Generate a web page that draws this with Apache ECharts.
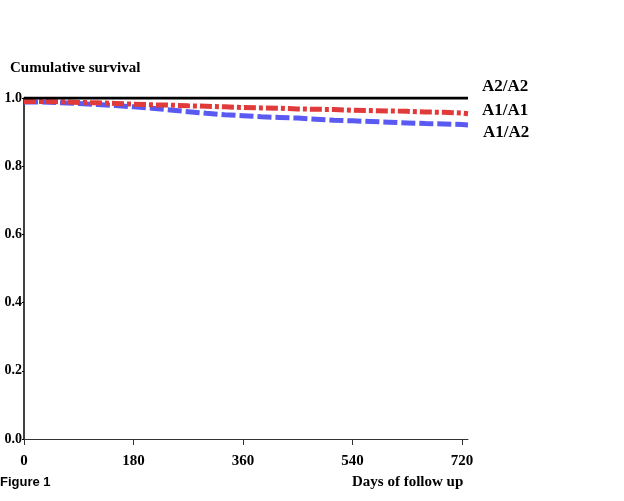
<!DOCTYPE html>
<html><head><meta charset="utf-8">
<script src="https://cdn.jsdelivr.net/npm/echarts@6/dist/echarts.min.js"></script>
<style>html,body{margin:0;padding:0;background:#fff}#c{width:624px;height:501px}</style>
</head><body><div id="c"></div>
<script>
const xTicks = [0, 180, 360, 540, 720];
const yTicks = [0, 0.2, 0.4, 0.6, 0.8, 1.0];
const seriesNames = ['A2/A2', 'A1/A1', 'A1/A2'];
const daysA2A2 = [0, 730];
const survA2A2 = [1.0, 1.0];
const daysA1A1 = [0, 30, 60, 90, 120, 150, 180, 210, 240, 270, 300, 330, 360, 390, 420, 450, 480, 510, 540, 570, 600, 630, 660, 690, 720, 730];
const survA1A1 = [0.990, 0.989, 0.987, 0.986, 0.984, 0.982, 0.980, 0.979, 0.977, 0.976, 0.974, 0.972, 0.971, 0.970, 0.968, 0.967, 0.966, 0.964, 0.963, 0.962, 0.961, 0.959, 0.958, 0.956, 0.954, 0.954];
const daysA1A2 = [0, 30, 60, 90, 120, 150, 180, 210, 240, 270, 300, 330, 360, 390, 420, 450, 480, 510, 540, 570, 600, 630, 660, 690, 720, 730];
const survA1A2 = [0.988, 0.986, 0.984, 0.981, 0.978, 0.974, 0.970, 0.965, 0.960, 0.955, 0.951, 0.948, 0.945, 0.943, 0.941, 0.938, 0.935, 0.933, 0.931, 0.929, 0.927, 0.925, 0.924, 0.922, 0.921, 0.921];

const zip = (a, b) => a.map((v, i) => [v, b[i]]);
const serif = '"Liberation Serif", "DejaVu Serif", serif';
const chart = echarts.init(document.getElementById('c'), null, {renderer: 'canvas'});
chart.setOption({
  backgroundColor: '#fff',
  animation: false,
  grid: {left: 24, right: 156, top: 98, bottom: 62, containLabel: false},
  xAxis: {
    type: 'value', min: 0, max: 730,
    axisLine: {show: true, lineStyle: {color: '#333', width: 1}},
    axisTick: {show: true, customValues: xTicks, length: 6, lineStyle: {color: '#333'}},
    axisLabel: {customValues: xTicks, color: '#000', fontFamily: serif, fontWeight: 'bold', fontSize: 15, margin: 15},
    splitLine: {show: false}
  },
  yAxis: {
    type: 'value', min: 0, max: 1, interval: 0.2,
    axisLine: {show: true, lineStyle: {color: '#000', width: 1.5}},
    axisTick: {show: true, length: 2, lineStyle: {color: '#000'}},
    axisLabel: {color: '#000', fontFamily: serif, fontWeight: 'bold', fontSize: 14, margin: 2,
      formatter: v => v.toFixed(1)},
    splitLine: {show: false}
  },
  graphic: [
    {type: 'text', left: 10, top: 61, style: {text: 'Cumulative survival', font: 'bold 15px ' + serif, fill: '#000'}},
    {type: 'text', left: 352, top: 475, style: {text: 'Days of follow up', font: 'bold 15px ' + serif, fill: '#000'}},
    {type: 'text', left: 0, top: 476, style: {text: 'Figure 1', font: 'bold 13px "Liberation Sans", Arial, sans-serif', fill: '#000'}},
    {type: 'text', left: 482, top: 78, style: {text: seriesNames[0], font: 'bold 17px ' + serif, fill: '#000'}},
    {type: 'text', left: 482, top: 102, style: {text: seriesNames[1], font: 'bold 17px ' + serif, fill: '#000'}},
    {type: 'text', left: 483, top: 124, style: {text: seriesNames[2], font: 'bold 17px ' + serif, fill: '#000'}}
  ],
  series: [
    {name: seriesNames[2], type: 'line', step: 'end', symbol: 'none', data: zip(daysA1A2, survA1A2),
      lineStyle: {color: '#5a5af2', width: 5, type: [14, 4]}, z: 2},
    {name: seriesNames[1], type: 'line', step: 'end', symbol: 'none', data: zip(daysA1A1, survA1A1),
      lineStyle: {color: '#e03a3a', width: 5, type: [12, 3, 4, 3]}, z: 3},
    {name: seriesNames[0], type: 'line', symbol: 'none', data: zip(daysA2A2, survA2A2),
      lineStyle: {color: '#000', width: 3}, z: 4}
  ]
});
</script></body></html>
